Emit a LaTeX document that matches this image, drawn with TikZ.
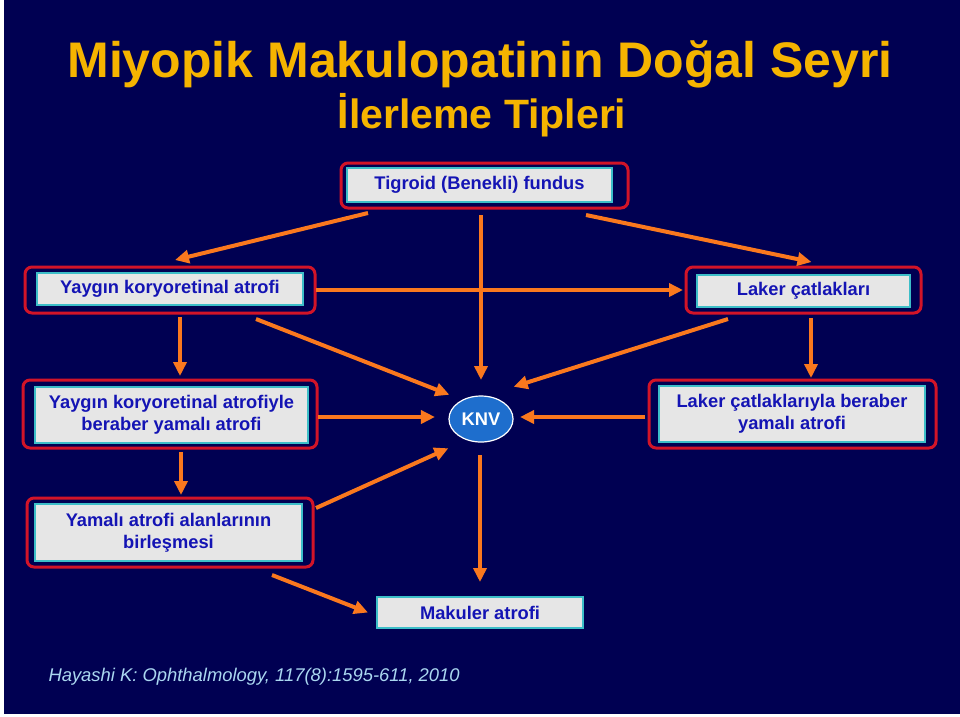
\documentclass[tikz,border=0pt]{standalone}
\usepackage{fontspec}
\setmainfont{Liberation Sans}
\usetikzlibrary{arrows.meta,calc,shapes.geometric}

\definecolor{navy}{RGB}{0,0,82}
\definecolor{framered}{RGB}{210,20,40}
\definecolor{boxcyan}{RGB}{60,190,200}
\definecolor{boxgray}{RGB}{230,230,230}
\definecolor{boxblue}{RGB}{20,20,180}
\definecolor{titleyellow}{RGB}{245,180,0}
\definecolor{arroworange}{RGB}{250,120,30}
\definecolor{knvblue}{RGB}{30,110,205}
\definecolor{citeblue}{RGB}{170,215,240}

\begin{document}
\begin{tikzpicture}[x=1pt, y=-1pt,
	redframe/.style={draw=framered, line width=3pt, rounded corners=7pt, fill=navy, outer sep=0pt},
	textbox/.style={draw=boxcyan, line width=2.5pt, fill=boxgray, text=boxblue, outer sep=0pt,
		font=\fontsize{18.3}{22}\selectfont\bfseries, align=center, inner sep=0pt},
	arr/.style={draw=arroworange, line width=4pt, -{Triangle[length=14pt,width=13pt]}}]
	
	\useasboundingbox (0, 0) rectangle (960, 716);
	\fill[white] (0, 0) rectangle (960, 716);
	\fill[navy] (4, 0) rectangle (960, 714);
	
	% titles
	\node[anchor=base, text=titleyellow, font=\fontsize{50}{58}\selectfont\bfseries] (title) at (480, 77) {Miyopik Makulopatinin Doğal Seyri};
	\node[anchor=base, text=titleyellow, font=\fontsize{41}{48}\selectfont\bfseries] (subtitle) at (482, 128) {İlerleme Tipleri};
	
	% boxes
	\node[redframe, minimum width=287pt, minimum height=45pt] (tigroid-frame) at (484.5, 185.5) {};
	\node[textbox, minimum width=265pt, minimum height=34pt] (tigroid) at (479.5, 185) {Tigroid (Benekli) fundus};
	
	\node[redframe, minimum width=290pt, minimum height=46pt] (yaygin1-frame) at (170, 290) {};
	\node[textbox, minimum width=266pt, minimum height=32pt] (yaygin1) at (170, 289) {Yaygın koryoretinal atrofi};
	
	\node[redframe, minimum width=235pt, minimum height=46pt] (laker1-frame) at (803.5, 290) {};
	\node[textbox, minimum width=213pt, minimum height=32pt] (laker1) at (803.5, 291) {Laker çatlakları};
	
	\node[redframe, minimum width=294pt, minimum height=68pt] (yaygin2-frame) at (170, 414) {};
	\node[textbox, minimum width=273pt, minimum height=56pt] (yaygin2) at (171.5, 415) {Yaygın koryoretinal atrofiyle\\beraber yamalı atrofi};
	
	\node[draw=white, line width=1.2pt, fill=knvblue, ellipse, minimum width=60pt, minimum height=46pt, outer sep=0pt,
		text=white, font=\fontsize{18.3}{22}\selectfont\bfseries] (knv) at (481, 419) {KNV};
	
	\node[redframe, minimum width=287pt, minimum height=68pt] (laker2-frame) at (792.5, 414) {};
	\node[textbox, minimum width=266pt, minimum height=56pt] (laker2) at (792, 414) {Laker çatlaklarıyla beraber\\yamalı atrofi};
	
	\node[redframe, minimum width=286pt, minimum height=69pt] (yamali-frame) at (170, 532.5) {};
	\node[textbox, minimum width=267pt, minimum height=57pt] (yamali) at (168.5, 532.5) {Yamalı atrofi alanlarının\\birleşmesi};
	
	\node[textbox, minimum width=206pt, minimum height=31pt] (makuler) at (480, 612.5) {Makuler atrofi};
	
	% arrows
	\draw[arr] ($(tigroid-frame.south west)+(27,5)$) -- ($(yaygin1-frame.north)+(5,-7)$);
	\draw[arr] ($(tigroid-frame.south -| knv)+(0,7)$) -- ($(knv.north)+(0,-16)$);
	\draw[arr] ($(tigroid-frame.south east)+(-42,7)$) -- ($(laker1-frame.north)+(8,-5)$);
	\draw[arr] ($(yaygin1-frame.east)+(1,0)$) -- ($(laker1-frame.west)+(-3,0)$);
	\draw[arr] ($(yaygin1-frame.south)+(10,4)$) -- ($(yaygin2-frame.north)+(10,-4)$);
	\draw[arr] ($(yaygin1-frame.south east)+(-59,6)$) -- ($(knv.north west)+(-9,-8)$);
	\draw[arr] ($(laker1-frame.south west)+(42,6)$) -- ($(knv.north east)+(10,-16)$);
	\draw[arr] ($(laker1-frame.south)+(7.5,5)$) -- ($(laker2-frame.north)+(18.5,-2)$);
	\draw[arr] ($(laker2-frame.west)+(-4,3)$) -- ($(knv.east)+(7,-2)$);
	\draw[arr] ($(yaygin2-frame.east)+(1,3)$) -- ($(knv.west)+(-14,-2)$);
	\draw[arr] ($(yaygin2-frame.south)+(11,4)$) -- ($(yamali-frame.north)+(11,-3)$);
	\draw[arr] ($(yamali-frame.north east)+(3,10)$) -- ($(knv.south west)+(-10,13)$);
	\draw[arr] ($(knv.south)+(-1,13)$) -- ($(makuler.north)+(0,-15)$);
	\draw[arr] ($(yamali-frame.south east)+(-41,8)$) -- ($(makuler.west)+(-9,0)$);
	
	% reference
	\node[anchor=base west, text=citeblue, font=\fontsize{18.4}{22}\selectfont\itshape] (cite) at (45, 681) {Hayashi K: Ophthalmology, 117(8):1595-611, 2010};
	
\end{tikzpicture}
\end{document}
